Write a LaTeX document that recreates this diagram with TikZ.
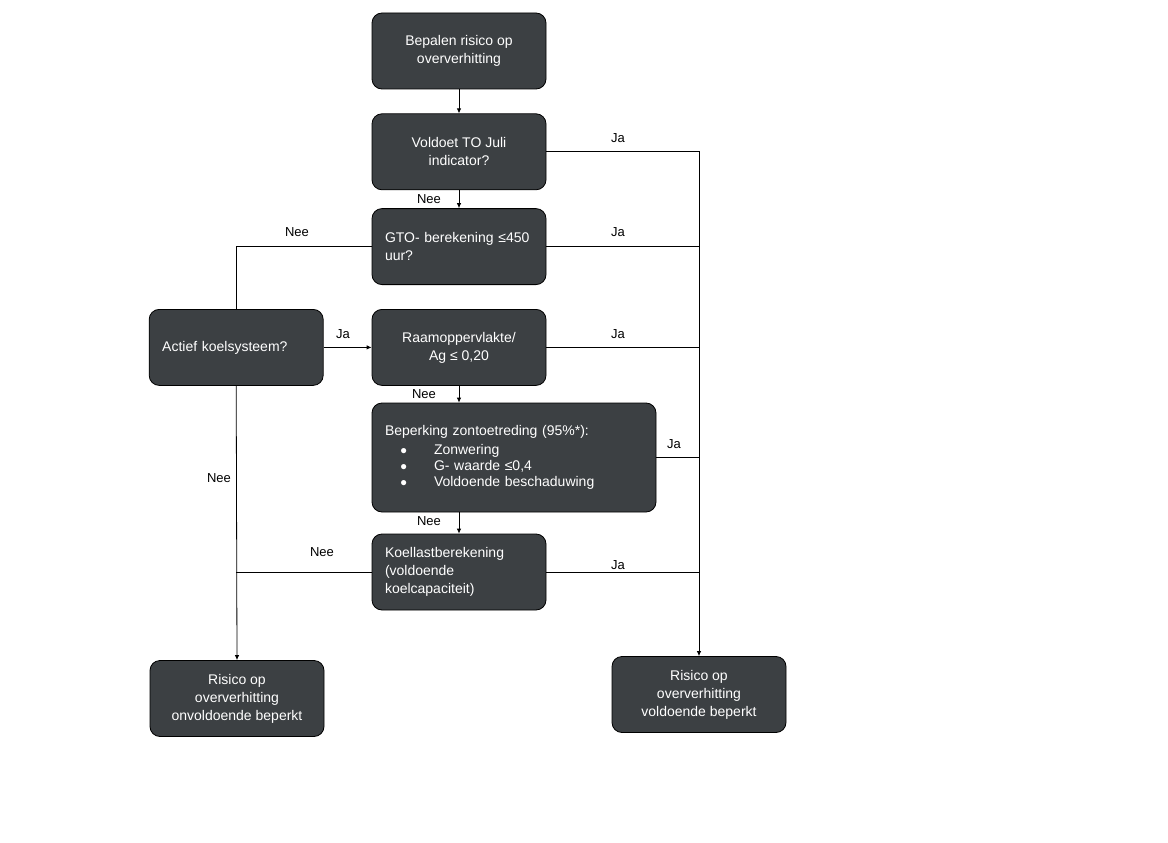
\documentclass[tikz,border=0pt]{standalone}
\usepackage{fontspec}
\setmainfont{Liberation Sans}
\usetikzlibrary{arrows.meta}
\usetikzlibrary{positioning}
\definecolor{boxgray}{HTML}{3C4043}

\newcommand{\dotitem}{\hspace*{15pt}\makebox[34pt][l]{\fontsize{12}{12}\selectfont\char"25CF}}

\tikzset{
  block/.style={draw=black, line width=0.8pt, fill=boxgray, text=white,
    rounded corners=10pt, minimum width=174pt, minimum height=76pt,
    inner sep=0pt, align=center, font=\fontsize{14}{18}\selectfont},
  blockleft/.style={block, text width=148pt, align=left},
  answer/.style={font=\fontsize{13}{15}\selectfont, inner sep=0pt},
  flow/.style={line width=0.8pt, -{Latex[length=5pt,width=4.5pt]}},
  flowplain/.style={line width=0.8pt}
}

\begin{document}
\begin{tikzpicture}[x=1pt,y=-1pt]
  \useasboundingbox (0,0) rectangle (1168,843);

  % blocks
  \node[block] (start) at (459,51) {Bepalen risico op\\oververhitting};
  \node[block] (to_juli) [below=24pt of start] {Voldoet TO Juli\\indicator?};
  \node[blockleft] (gto) [below=18pt of to_juli] {GTO- berekening \char"2264 450\\uur?};
  \node[block] (raam) [below=24pt of gto] {Raamoppervlakte/\\Ag \char"2264\ 0,20};
  \node[blockleft] (koel) [left=48pt of raam] {Actief koelsysteem?};
  \node[block, text width=258pt, inner xsep=13pt, align=left, minimum height=109pt,
    font=\fontsize{14}{16}\selectfont] (zon) at (514,457.5)
    {Beperking zontoetreding (95\%*):\\[3pt]
     \dotitem Zonwering\\
     \dotitem G- waarde \char"2264 0,4\\
     \dotitem Voldoende beschaduwing};
  \node[blockleft] (koellast) at (459,572) {Koellastberekening\\(voldoende\\koelcapaciteit)};
  \node[block] (slecht) at (237,698.5) {Risico op\\oververhitting\\onvoldoende beperkt};
  \node[block] (goed) at (699,694.5) {Risico op\\oververhitting\\voldoende beperkt};

  % connectors
  \draw[flow] (start) -- (to_juli);
  \draw[flow] (to_juli) -- (gto);
  \draw[flow] (to_juli.east) -| (goed.north);
  \draw[flowplain] (gto.east) -- (gto.east -| goed.north);
  \draw[flowplain] (gto.west) -| (koel.north);
  \draw[flow] (koel.east) -- (raam.west);
  \draw[flowplain] (raam.east) -- (raam.east -| goed.north);
  \draw[flow] (raam.south) -- (raam.south |- zon.north);
  \draw[flowplain] (zon.east) -- (zon.east -| goed.north);
  \draw[flow] (koellast.north |- zon.south) -- (koellast.north);
  \draw[flowplain] (koellast.east) -- (koellast.east -| goed.north);
  \draw[flowplain] (koellast.west) -- (koellast.west -| koel.south);
  \draw[flow] (koel.south) -- (slecht.north);

  % answers
  \node[answer] (ja_1) at (618,138) {Ja};
  \node[answer] (ja_2) at (618,232) {Ja};
  \node[answer] (ja_3) at (343,334) {Ja};
  \node[answer] (ja_4) at (618,334) {Ja};
  \node[answer] (ja_5) at (674,444) {Ja};
  \node[answer] (ja_6) at (618,565) {Ja};
  \node[answer] (nee_1) at (429,199) {Nee};
  \node[answer] (nee_2) at (297,232) {Nee};
  \node[answer] (nee_3) at (424,394) {Nee};
  \node[answer] (nee_4) at (429,521) {Nee};
  \node[answer] (nee_5) at (322,552) {Nee};
  \node[answer] (nee_6) at (219,478) {Nee};
\end{tikzpicture}
\end{document}
